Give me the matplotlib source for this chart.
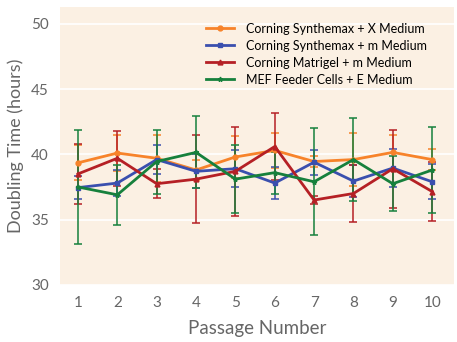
import matplotlib
matplotlib.use("Agg")
import matplotlib.pyplot as plt
from matplotlib.lines import Line2D

passages = [1, 2, 3, 4, 5, 6, 7, 8, 9, 10]

synthemax_x = [39.35, 40.1, 39.7, 38.8, 39.8, 40.3, 39.45, 39.6, 40.15, 39.6]
synthemax_x_err = [1.35, 1.4, 1.8, 0.8, 1.6, 1.35, 0.4, 2.0, 1.35, 0.8]

synthemax_m = [37.45, 37.8, 39.6, 38.7, 38.9, 37.8, 39.4, 37.95, 38.95, 37.9]
synthemax_m_err = [0.9, 1.0, 1.1, 1.3, 1.4, 1.2, 0.95, 1.2, 1.45, 1.35]

matrigel_m = [38.5, 39.7, 37.75, 38.1, 38.7, 40.6, 36.5, 37.0, 38.9, 37.15]
matrigel_m_err = [2.3, 2.1, 1.1, 3.35, 3.4, 2.6, 0.3, 2.2, 3.0, 2.25]

mef_e = [37.5, 36.9, 39.45, 40.15, 38.1, 38.6, 37.9, 39.6, 37.75, 38.8]
mef_e_err = [4.35, 2.3, 2.45, 2.75, 2.6, 1.6, 4.1, 3.2, 2.1, 3.3]

series = [
    ("Corning Synthemax + X Medium", synthemax_x, synthemax_x_err, "#f7832a", "o"),
    ("Corning Synthemax + m Medium", synthemax_m, synthemax_m_err, "#3a4fae", "s"),
    ("Corning Matrigel + m Medium", matrigel_m, matrigel_m_err, "#b52025", "^"),
    ("MEF Feeder Cells + E Medium", mef_e, mef_e_err, "#16803c", "*"),
]

plt.rcParams["font.family"] = ["Lato", "DejaVu Sans"]

fig = plt.figure(figsize=(4.57, 3.42), dpi=100)
ax = fig.add_axes([0.131, 0.167, 0.862, 0.813])
ax.set_facecolor("#fbf0e3")

handles = []
for label, vals, errs, color, marker in series:
    ax.errorbar(passages, vals, yerr=errs, color=color, lw=2.0, marker=marker,
                ms=3.5, elinewidth=1.1, capsize=3, capthick=1.1,
                ecolor=color, zorder=3)
    handles.append(Line2D([], [], color=color, lw=2.0, marker=marker, ms=3.5,
                          label=label))

ax.set_xlim(0.54, 10.55)
ax.set_ylim(30, 51.3)
ax.set_xticks(passages)
ax.set_yticks([30, 35, 40, 45, 50])
ax.grid(axis="y", color="white", lw=1.2, zorder=0)
ax.set_axisbelow(True)
for s in ax.spines.values():
    s.set_visible(False)
ax.tick_params(length=0, labelsize=11, colors="#666666", pad=8)
ax.set_xlabel("Passage Number", fontsize=13.5, color="#666666", labelpad=7)
ax.set_ylabel("Doubling Time (hours)", fontsize=13, color="#666666", labelpad=5)

ax.legend(handles=handles, loc="upper right", bbox_to_anchor=(0.955, 0.975),
          frameon=False, fontsize=9, handlelength=2.2, labelspacing=0.4,
          borderaxespad=0.3, handletextpad=1.0)

fig.savefig("out.png", dpi=100)
